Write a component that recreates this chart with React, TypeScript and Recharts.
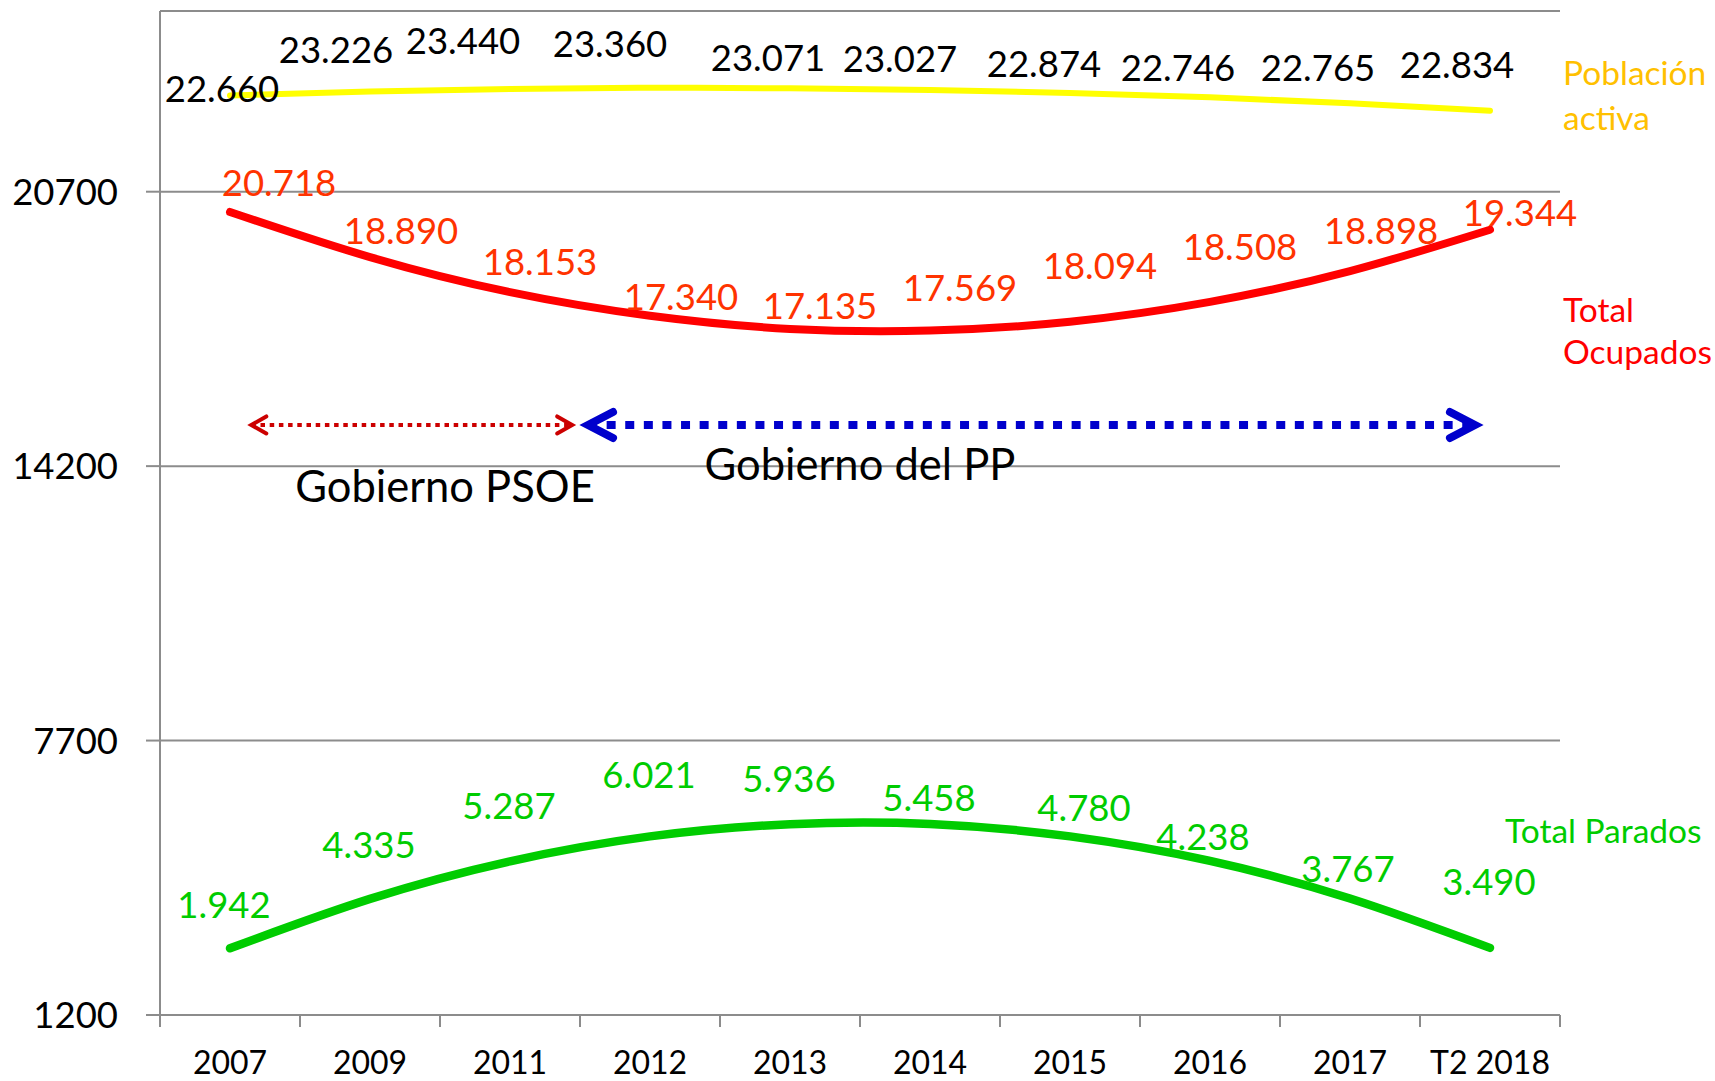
import React from 'react';
import { LineChart, Line, XAxis, YAxis, CartesianGrid, ReferenceLine, ReferenceDot } from 'recharts';

// ---------- data ----------
const YEARS = ['2007', '2009', '2011', '2012', '2013', '2014', '2015', '2016', '2017', 'T2 2018'];
const POBLACION_ACTIVA = [22660, 23226, 23440, 23360, 23071, 23027, 22874, 22746, 22765, 22834];
const TOTAL_OCUPADOS = [20718, 18890, 18153, 17340, 17135, 17569, 18094, 18508, 18898, 19344];
const TOTAL_PARADOS = [1942, 4335, 5287, 6021, 5936, 5458, 4780, 4238, 3767, 3490];
// trend curves at each category
const ACTIVA_TREND = [22980, 23075, 23135, 23160, 23150, 23110, 23040, 22935, 22795, 22620];
const OCUPADOS_TREND = [20220, 19150, 18320, 17760, 17450, 17410, 17620, 18090, 18820, 19800];
const PARADOS_TREND = [2780, 3950, 4840, 5430, 5720, 5725, 5430, 4850, 3960, 2790];
const Y_TICKS = [1200, 7700, 14200, 20700];
const Y_DOMAIN = [1200, 24980];

// label placement (pixel offsets of each value label from its point)
const ACTIVA_LABEL_OFFSETS = [[-8, -20], [-34, -35], [-47, -35], [-40, -36], [-22, -34], [-30, -35], [-26, -36], [-32, -37], [-32, -37], [-33, -37]];
const OCUPADOS_LABEL_OFFSETS = [[49, -8], [31, -37], [30, -37], [31, -37], [30, -36], [30, -36], [30, -36], [30, -37], [31, -37], [30, -36]];
const PARADOS_LABEL_OFFSETS = [[-6, -79], [-1, -38], [-1, -37], [-1, -37], [-1, -36], [-1, -37], [14, -56], [-7, -50], [-2, -38], [-1, -36]];

// annotations (data coordinates)
const ARROWS = [
  { from: 0.12, to: 2.476, y: 15175, color: '#CC0000', width: 4, dash: '4.5 4.7', inset: 4.5, armX: 15, armY: 8.5 },
  { from: 2.486, to: 8.964, y: 15175, color: '#0000CC', width: 8, dash: '9 9.6', inset: 10, armX: 25, armY: 13 },
];
const NOTES = [
  { text: 'Gobierno PSOE', x: 1.536, y: 13730 },
  { text: 'Gobierno del PP', x: 4.5, y: 14250 },
];

// ---------- styles ----------
const FONT = 'Lato, "Open Sans", "DejaVu Sans", sans-serif';
const GRAY = '#8c8c8c';
const W = 1715;
const H = 1081;
const MARGIN = { top: 11, right: 155, bottom: 6, left: 20 };
const Y_AXIS_W = 140;
const X_AXIS_H = 60;
const PLOT_W = W - MARGIN.left - MARGIN.right - Y_AXIS_W;
const BAND = PLOT_W / YEARS.length;
const X_TICK_SIZE = 12;
const X_TICK_MARGIN = 25;
const LABEL_FS = 36.5;
const NAME_FS = 33.5;
const NOTE_FS = 43.5;

const fmt = (v: number) => `${Math.floor(v / 1000)}.${String(v % 1000).padStart(3, '0')}`;

const rows = YEARS.map((year, i) => ({
  i,
  year,
  activa: POBLACION_ACTIVA[i],
  ocupados: TOTAL_OCUPADOS[i],
  parados: TOTAL_PARADOS[i],
  activaTrend: ACTIVA_TREND[i],
  ocupadosTrend: OCUPADOS_TREND[i],
  paradosTrend: PARADOS_TREND[i],
}));

const valueDot = (values: number[], offsets: number[][], color: string) => (p: any) => {
  const { cx, cy, index } = p;
  if (cx == null || cy == null) return <g key={`v-${index}`} />;
  const [dx, dy] = offsets[index];
  return (
    <text
      key={`v-${index}`}
      x={cx + dx}
      y={cy + dy + 0.36 * LABEL_FS}
      textAnchor="middle"
      fontSize={LABEL_FS}
      fontFamily={FONT}
      fill={color}
    >
      {fmt(values[index])}
    </text>
  );
};

const nameDot = (lines: string[], dx: number, dy: number, lineH: number, color: string) => (p: any) => {
  const { cx, cy, index } = p;
  if (index !== YEARS.length - 1 || cx == null) return <g key={`n-${index}`} />;
  return (
    <text key={`n-${index}`} x={cx + dx} y={cy + dy} fontSize={NAME_FS} fontFamily={FONT} fill={color}>
      {lines.map((t, k) => (
        <tspan key={k} x={cx + dx} dy={k === 0 ? 0 : lineH}>
          {t}
        </tspan>
      ))}
    </text>
  );
};

const arrowShape = (a: any) => (p: any) => {
  const { x1, y1, x2, y2 } = p;
  const lx = x1 + a.inset;
  const rx = x2 - a.inset;
  return (
    <g>
      <line x1={lx} y1={y1} x2={rx} y2={y2} stroke={a.color} strokeWidth={a.width} strokeDasharray={a.dash} />
      <polyline
        points={`${lx + a.armX},${y1 - a.armY} ${lx},${y1} ${lx + a.armX},${y1 + a.armY}`}
        fill="none"
        stroke={a.color}
        strokeWidth={a.width}
        strokeLinecap="round"
        strokeLinejoin="miter"
      />
      <polyline
        points={`${rx - a.armX},${y2 - a.armY} ${rx},${y2} ${rx - a.armX},${y2 + a.armY}`}
        fill="none"
        stroke={a.color}
        strokeWidth={a.width}
        strokeLinecap="round"
        strokeLinejoin="miter"
      />
    </g>
  );
};

const noteShape = (text: string) => (p: any) => (
  <text x={p.cx} y={p.cy + 0.36 * NOTE_FS} textAnchor="middle" fontSize={NOTE_FS} fontFamily={FONT} fill="#000">
    {text}
  </text>
);

const XTick = (props: any) => {
  const { x, y, payload } = props;
  const i = Number(payload.value);
  const axisY = y - X_TICK_SIZE - X_TICK_MARGIN;
  const half = BAND / 2;
  return (
    <g>
      <line x1={x - half} x2={x - half} y1={axisY} y2={axisY + X_TICK_SIZE} stroke={GRAY} strokeWidth={2} />
      {i === YEARS.length - 1 && (
        <line x1={x + half} x2={x + half} y1={axisY} y2={axisY + X_TICK_SIZE} stroke={GRAY} strokeWidth={2} />
      )}
      <text x={x} y={y + 22} textAnchor="middle" fontSize={32} fontFamily={FONT} fill="#000">
        {YEARS[i]}
      </text>
    </g>
  );
};

export default function App() {
  return (
    <div style={{ position: 'absolute', left: 0, top: 0, width: W, height: H, background: '#fff' }}>
      <LineChart width={W} height={H} data={rows} margin={MARGIN} style={{ fontFamily: FONT }}>
        <CartesianGrid horizontal vertical={false} stroke={GRAY} strokeWidth={2} />
        <XAxis
          dataKey="i"
          type="number"
          domain={[-0.5, YEARS.length - 0.5]}
          ticks={YEARS.map((_, i) => i)}
          interval={0}
          height={X_AXIS_H}
          axisLine={{ stroke: GRAY, strokeWidth: 2 }}
          tickLine={false}
          tickSize={X_TICK_SIZE}
          tickMargin={X_TICK_MARGIN}
          tick={<XTick />}
        />
        <YAxis
          type="number"
          domain={Y_DOMAIN}
          ticks={Y_TICKS}
          interval={0}
          width={Y_AXIS_W}
          axisLine={{ stroke: GRAY, strokeWidth: 2 }}
          tickLine={{ stroke: GRAY, strokeWidth: 2 }}
          tickSize={14}
          tickMargin={28}
          tick={{ fill: '#000', fontSize: 36.5, fontFamily: FONT }}
        />
        <Line
          dataKey="activaTrend"
          type="natural"
          stroke="#FFFF00"
          strokeWidth={6}
          strokeLinecap="round"
          dot={nameDot(['Población', 'activa'], 73, -26, 45, '#FFC000')}
          activeDot={false}
          isAnimationActive={false}
        />
        <Line
          dataKey="ocupadosTrend"
          type="natural"
          stroke="#FF0000"
          strokeWidth={8}
          strokeLinecap="round"
          dot={nameDot(['Total', 'Ocupados'], 73, 92, 42.5, '#FF0000')}
          activeDot={false}
          isAnimationActive={false}
        />
        <Line
          dataKey="paradosTrend"
          type="natural"
          stroke="#00CC00"
          strokeWidth={8.5}
          strokeLinecap="round"
          dot={nameDot(['Total Parados'], 15, -105, 40, '#00CC00')}
          activeDot={false}
          isAnimationActive={false}
        />
        <Line
          dataKey="activa"
          stroke="none"
          dot={valueDot(POBLACION_ACTIVA, ACTIVA_LABEL_OFFSETS, '#000000')}
          activeDot={false}
          isAnimationActive={false}
        />
        <Line
          dataKey="ocupados"
          stroke="none"
          dot={valueDot(TOTAL_OCUPADOS, OCUPADOS_LABEL_OFFSETS, '#FF3300')}
          activeDot={false}
          isAnimationActive={false}
        />
        <Line
          dataKey="parados"
          stroke="none"
          dot={valueDot(TOTAL_PARADOS, PARADOS_LABEL_OFFSETS, '#00CC00')}
          activeDot={false}
          isAnimationActive={false}
        />
        {ARROWS.map((a, k) => (
          <ReferenceLine
            key={`arrow-${k}`}
            segment={[{ x: a.from, y: a.y }, { x: a.to, y: a.y }]}
            ifOverflow="visible"
            shape={arrowShape(a)}
          />
        ))}
        {NOTES.map((n, k) => (
          <ReferenceDot key={`note-${k}`} x={n.x} y={n.y} r={0} ifOverflow="visible" shape={noteShape(n.text)} />
        ))}
      </LineChart>
    </div>
  );
}
